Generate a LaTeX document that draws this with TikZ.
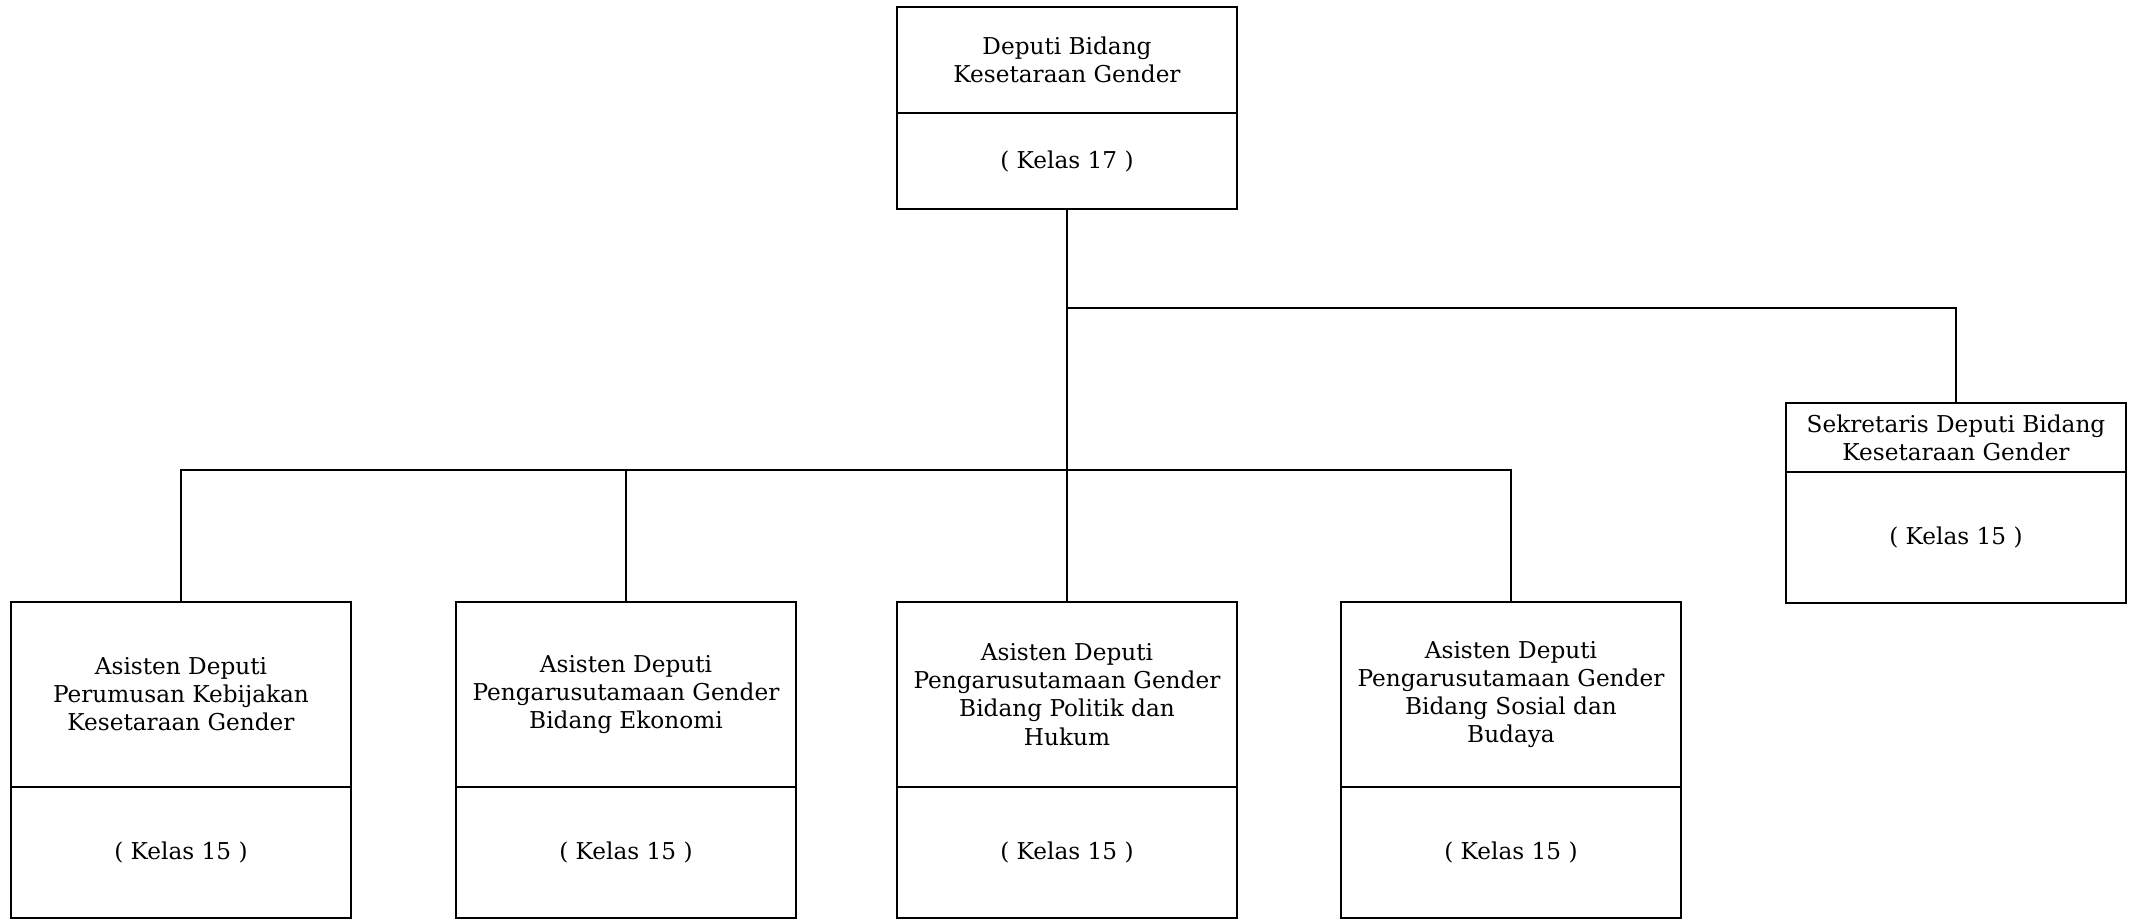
\documentclass[tikz,border=0pt]{standalone}
\usepackage{fontspec}
\setmainfont{DejaVu Serif}
\usetikzlibrary{positioning}
\begin{document}
\begin{tikzpicture}[line width=0.6pt,
    unitbox/.style={draw,outer sep=0pt,inner sep=0pt,minimum width=3.4cm,align=center,font=\fontsize{6.6}{8}\selectfont},
    kelasbox/.style={unitbox,minimum height=#1},
    headbox/.style={unitbox,anchor=north,minimum height=#1}]
                  \useasboundingbox (0,0) rectangle (21.32,9.2);
                  \node[headbox=1.06cm] (dep) at (10.67,9.13) {Deputi Bidang\\Kesetaraan Gender};
                  \node[kelasbox=0.96cm,below=0pt of dep] (depk) {( Kelas 17 )};
                  \node[headbox=0.69cm] (sek) at (19.56,5.17) {Sekretaris Deputi Bidang\\Kesetaraan Gender};
                  \node[kelasbox=1.31cm,below=0pt of sek] (sekk) {( Kelas 15 )};
                  \node[headbox=1.85cm] (as1) at (1.81,3.18) {Asisten Deputi\\Perumusan Kebijakan\\Kesetaraan Gender};
                  \node[kelasbox=1.31cm,below=0pt of as1] (as1k) {( Kelas 15 )};
                  \node[headbox=1.85cm] (as2) at (6.26,3.18) {Asisten Deputi\\Pengarusutamaan Gender\\Bidang Ekonomi};
                  \node[kelasbox=1.31cm,below=0pt of as2] (as2k) {( Kelas 15 )};
                  \node[headbox=1.85cm] (as3) at (10.67,3.18) {Asisten Deputi\\Pengarusutamaan Gender\\Bidang Politik dan\\Hukum};
                  \node[kelasbox=1.31cm,below=0pt of as3] (as3k) {( Kelas 15 )};
                  \node[headbox=1.85cm] (as4) at (15.11,3.18) {Asisten Deputi\\Pengarusutamaan Gender\\Bidang Sosial dan\\Budaya};
                  \node[kelasbox=1.31cm,below=0pt of as4] (as4k) {( Kelas 15 )};
                  \coordinate (sekbus) at (0,6.12);
                  \coordinate (bus) at (0,4.5);
                  \draw (depk.south) -- (depk.south |- bus);
                  \draw (depk.south |- sekbus) -| (sek.north);
                  \draw (as1.north) |- (as4.north |- bus) -- (as4.north);
                  \draw (as2.north) -- (as2.north |- bus);
                  \draw (as3.north) -- (as3.north |- bus);
              \end{tikzpicture}
\end{document}
